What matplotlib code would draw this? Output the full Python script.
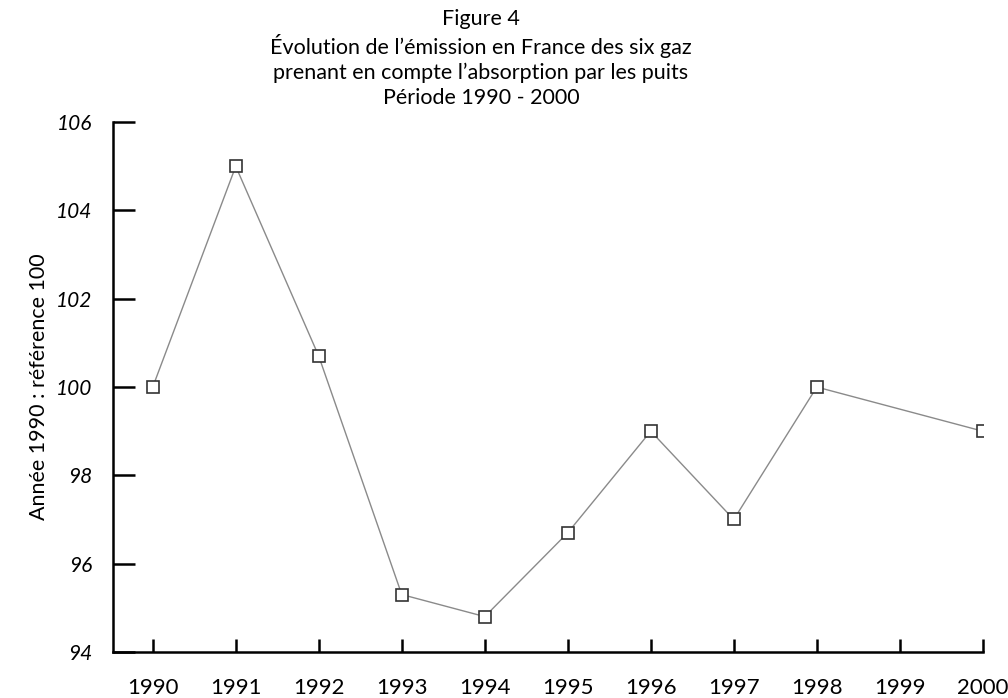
import numpy as np
import matplotlib
matplotlib.use("Agg")
from matplotlib import pyplot as plt

# values (1990 = 100); 1999 has no visible point
years = [1990, 1991, 1992, 1993, 1994, 1995, 1996, 1997, 1998, 2000]
index = [100.0, 105.0, 100.7, 95.3, 94.8, 96.7, 99.0, 97.0, 100.0, 99.0]
tick_years = list(range(1990, 2001))
y_ticks = [94, 96, 98, 100, 102, 104, 106]

title = ("Figure 4\n"
         "Évolution de l\u2019émission en France des six gaz\n"
         "prenant en compte l\u2019absorption par les puits\n"
         "Période 1990 - 2000")

plt.rcParams['font.family'] = ['Lato', 'DejaVu Sans']

fig = plt.figure(figsize=(10.08, 6.98), dpi=100)
ax = fig.add_axes([0.112, 0.066, 0.863, 0.759])

ax.plot(years, index, color="#8a8a8a", lw=1.0, zorder=2)
ax.plot(years, index, ls="none", marker="s", ms=8, mfc="white",
        mec="#333333", mew=1.2, zorder=3)

ax.set_xlim(1989.52, 2000)
ax.set_ylim(94, 106)
ax.set_xticks(tick_years)
ax.set_xticklabels([str(y) for y in tick_years], fontsize=16)
ax.set_yticks(y_ticks)
ax.set_yticklabels([str(v) for v in y_ticks], fontsize=15, style="italic")

ax.tick_params(axis="y", direction="in", length=16, width=1.8, pad=15)
ax.tick_params(axis="x", direction="in", length=9.5, width=1.8, pad=19)

for side in ["top", "right"]:
    ax.spines[side].set_visible(False)
for side in ["left", "bottom"]:
    ax.spines[side].set_linewidth(1.8)

ax.set_ylabel("Année 1990 : référence 100", fontsize=15.5, labelpad=5)

fig.text(0.477, 0.987, title, ha="center", va="top", fontsize=15.5,
         linespacing=1.27)

fig.savefig("out.png", dpi=100)
